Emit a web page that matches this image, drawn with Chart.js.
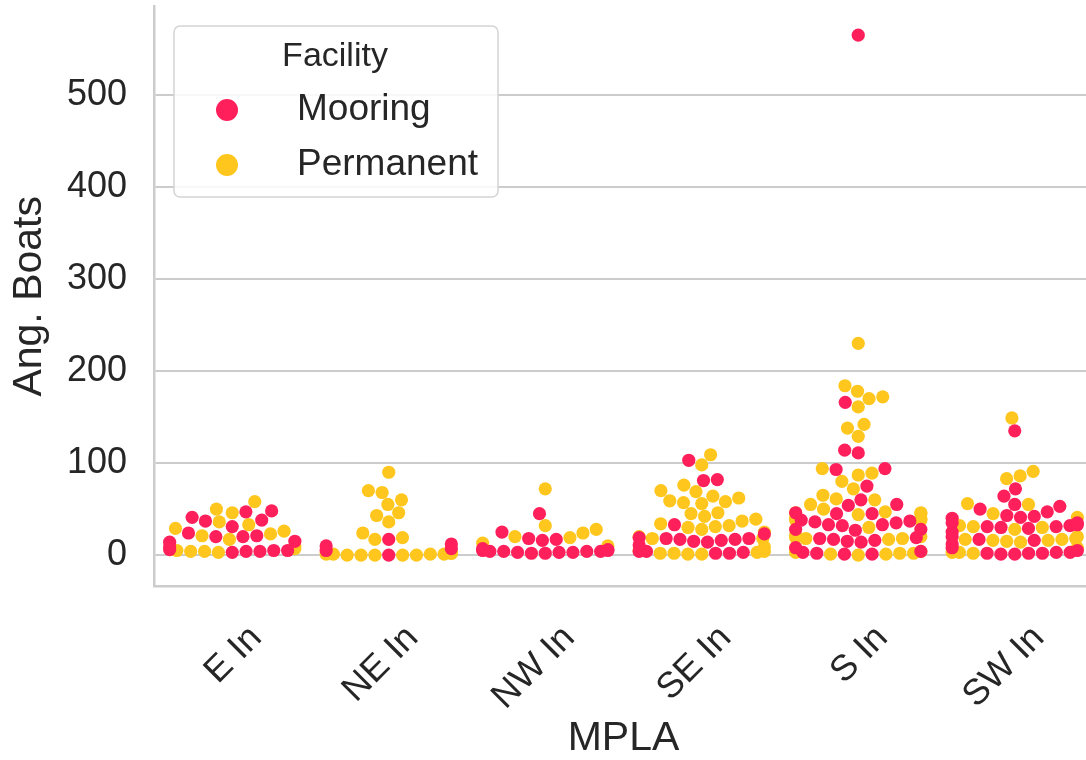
<!DOCTYPE html>
<html>
<head>
<meta charset="utf-8">
<title>Ang. Boats by MPLA</title>
<script src="https://cdn.jsdelivr.net/npm/chart.js@4.4.1/dist/chart.umd.min.js"></script>
<style>
  html, body { margin: 0; padding: 0; background: #ffffff; overflow: hidden; }
  #wrap { width: 1100px; height: 760px; }
  canvas { display: block; }
</style>
</head>
<body>
<div id="wrap"><canvas id="chart" width="1100" height="760"></canvas></div>
<script>
// Categories along the x axis
const categories = ['E In', 'NE In', 'NW In', 'SE In', 'S In', 'SW In'];
const yTickValues = [0, 100, 200, 300, 400, 500];
const legendTitle = 'Facility';
const seriesNames = ['Mooring', 'Permanent'];

// Angling boats per site, one array per MPLA and facility type
const E_IN_MOORING    = [3, 4, 4, 5, 6, 14, 9, 15, 5, 24, 21, 20, 20, 38, 37, 31, 41, 47, 48];
const E_IN_PERMANENT  = [3, 4, 5, 4, 7, 10, 17, 21, 23, 26, 29, 33, 36, 46, 50, 58];
const NE_IN_MOORING   = [0, 17, 12, 7, 10, 5];
const NE_IN_PERMANENT = [0, 0, 1, 0, 1, 2, 0, 1, 2, 1, 0, 19, 17, 24, 36, 43, 46, 55, 60, 68, 70, 90];
const NW_IN_MOORING   = [2, 3, 3, 4, 4, 5, 2, 3, 4, 5, 7, 6, 4, 16, 17, 18, 25, 45];
const NW_IN_PERMANENT = [10, 13, 20, 19, 24, 28, 32, 72];
const SE_IN_MOORING   = [103, 82, 81, 33, 19, 17, 18, 16, 18, 17, 15, 3, 2, 4, 23, 11, 2, 14, 4];
const SE_IN_PERMANENT = [109, 98, 76, 70, 69, 64, 59, 57, 56, 58, 62, 45, 42, 46, 39, 34, 32, 30, 28, 31, 37, 18, 1, 2, 3, 2, 4, 1, 18, 5, 25, 20, 9];
const S_IN_MOORING    = [565, 166, 114, 111, 94, 93, 75, 60, 54, 55, 46, 45, 38, 37, 28, 32, 33, 36, 18, 16, 19, 17, 2, 1, 3, 45, 35, 28, 15, 4, 33, 27, 14, 8, 1];
const S_IN_PERMANENT  = [230, 184, 178, 170, 172, 161, 138, 142, 129, 89, 87, 94, 80, 72, 60, 61, 65, 46, 47, 45, 44, 38, 39, 30, 18, 19, 17, 18, 2, 3, 1, 2, 0, 55, 50, 40, 22, 8, 1, 46, 38, 20, 4];
const SW_IN_MOORING   = [135, 72, 64, 53, 55, 47, 50, 42, 40, 41, 31, 32, 30, 33, 31, 29, 16, 17, 2, 1, 3, 2, 1, 2, 3, 43, 35, 25, 12, 5, 35, 20, 8];
const SW_IN_PERMANENT = [149, 91, 86, 83, 56, 55, 41, 31, 30, 32, 16, 17, 15, 16, 18, 17, 2, 3, 20, 8, 45, 28, 14, 3];

const mooringByCategory   = [E_IN_MOORING, NE_IN_MOORING, NW_IN_MOORING, SE_IN_MOORING, S_IN_MOORING, SW_IN_MOORING];
const permanentByCategory = [E_IN_PERMANENT, NE_IN_PERMANENT, NW_IN_PERMANENT, SE_IN_PERMANENT, S_IN_PERMANENT, SW_IN_PERMANENT];

const COLORS = ['#FF1F5B', '#FFC61E'];
const TEXT = '#262626';
const GRID = '#cccccc';
const FONT = "'Liberation Sans', Arial, Helvetica, sans-serif";
const R = 6.6;           // marker radius (px)
const SWARM_WIDTH = 0.8; // share of a category slot used by the swarm

// Beeswarm layout in pixel space: each point, taken in order of height,
// goes to the free spot closest to the category midline.
function beeswarm(heights, r) {
  const placed = [];
  const out = new Array(heights.length);
  const order = heights.map((h, i) => i).sort((a, b) => heights[a] - heights[b]);
  for (const i of order) {
    const h = heights[i];
    const neighbors = [];
    for (let j = placed.length - 1; j >= 0; j--) {
      if (h - placed[j].h < 2 * r) neighbors.push(placed[j]); else break;
    }
    const cands = [0];
    let leftFirst = true;
    for (const n of neighbors) {
      const dy = h - n.h;
      const dx = Math.sqrt(Math.max(4 * r * r - dy * dy, 0)) * 1.05;
      if (leftFirst) cands.push(n.x - dx, n.x + dx); else cands.push(n.x + dx, n.x - dx);
      leftFirst = !leftFirst;
    }
    const sorted = cands.map((x, k) => ({ x, k })).sort((a, b) => (Math.abs(a.x) - Math.abs(b.x)) || (a.k - b.k));
    let chosen = sorted[0].x;
    for (const c of sorted) {
      let ok = true;
      for (const n of neighbors) {
        const ddx = n.x - c.x, ddy = n.h - h;
        if (ddx * ddx + ddy * ddy < 4 * r * r - 1e-6) { ok = false; break; }
      }
      if (ok) { chosen = c.x; break; }
    }
    placed.push({ x: chosen, h });
    out[i] = chosen;
  }
  return out;
}

function layoutSwarms(chart) {
  const xs = chart.scales.x, ys = chart.scales.y;
  const slot = xs.getPixelForValue(1) - xs.getPixelForValue(0);
  const gutter = SWARM_WIDTH / 2;
  const base = ys.getPixelForValue(0);
  const mooringPts = [], permanentPts = [];
  categories.forEach((cat, ci) => {
    const vals = [];
    mooringByCategory[ci].forEach(v => vals.push({ v, s: 0 }));
    permanentByCategory[ci].forEach(v => vals.push({ v, s: 1 }));
    const heights = vals.map(p => base - ys.getPixelForValue(p.v));
    const offs = beeswarm(heights, R);
    vals.forEach((p, k) => {
      let dx = offs[k] / slot;
      if (dx > gutter) dx = gutter;
      if (dx < -gutter) dx = -gutter;
      (p.s === 0 ? mooringPts : permanentPts).push({ x: ci + dx, y: p.v });
    });
  });
  chart.data.datasets[0].data = mooringPts;
  chart.data.datasets[1].data = permanentPts;
  chart.update('none');
}

// Framed legend with title, drawn inside the plot area
const boxLegend = {
  id: 'boxLegend',
  afterDatasetsDraw(chart) {
    const ctx = chart.ctx;
    const x = 174, y = 26, w = 324, h = 171, rad = 6;
    ctx.save();
    ctx.beginPath();
    ctx.moveTo(x + rad, y);
    ctx.arcTo(x + w, y, x + w, y + h, rad);
    ctx.arcTo(x + w, y + h, x, y + h, rad);
    ctx.arcTo(x, y + h, x, y, rad);
    ctx.arcTo(x, y, x + w, y, rad);
    ctx.closePath();
    ctx.fillStyle = 'rgba(255,255,255,0.85)';
    ctx.fill();
    ctx.lineWidth = 1.5;
    ctx.strokeStyle = '#d4d4d4';
    ctx.stroke();

    ctx.fillStyle = TEXT;
    ctx.textAlign = 'center';
    ctx.textBaseline = 'alphabetic';
    ctx.font = `34px ${FONT}`;
    ctx.fillText(legendTitle, 335, 66);

    chart.data.datasets.forEach((ds, i) => {
      const cy = 110 + i * 55;
      ctx.beginPath();
      ctx.arc(227, cy, 11, 0, Math.PI * 2);
      ctx.fillStyle = ds.backgroundColor;
      ctx.fill();
      ctx.fillStyle = TEXT;
      ctx.textAlign = 'left';
      ctx.textBaseline = 'middle';
      ctx.font = `37px ${FONT}`;
      ctx.fillText(ds.label, 297, cy);
    });
    ctx.restore();
  }
};

const chart = new Chart(document.getElementById('chart'), {
  type: 'scatter',
  data: {
    datasets: seriesNames.map((name, i) => ({
      label: name,
      data: [],
      backgroundColor: COLORS[i],
      borderWidth: 0,
      pointRadius: R,
      pointHoverRadius: R
    }))
  },
  options: {
    responsive: false,
    animation: false,
    events: [],
    layout: { padding: { top: 5, right: 7, left: 0, bottom: 0 } },
    plugins: { legend: { display: false }, tooltip: { enabled: false } },
    scales: {
      x: {
        type: 'linear',
        min: -0.5,
        max: categories.length - 0.5,
        afterFit(scale) {
          scale.height = 174;
          scale.paddingLeft = 0; scale.paddingRight = 0;
          scale.paddingTop = 0; scale.paddingBottom = 0;
        },
        afterBuildTicks(scale) { scale.ticks = categories.map((c, i) => ({ value: i })); },
        ticks: {
          autoSkip: false,
          minRotation: 45,
          maxRotation: 45,
          labelOffset: 24,
          padding: 31,
          color: TEXT,
          font: { family: FONT, size: 36 },
          callback: (v) => categories[v]
        },
        grid: { display: false, drawTicks: false },
        border: { display: true, color: GRID, width: 2.5 },
        title: {
          display: true,
          text: 'MPLA',
          color: TEXT,
          font: { family: FONT, size: 41, lineHeight: 1 },
          padding: { top: 0, bottom: 0.5 }
        }
      },
      y: {
        min: -33.6,
        max: 596,
        afterFit(scale) {
          scale.width = 154;
          scale.paddingLeft = 0; scale.paddingRight = 0;
          scale.paddingTop = 0; scale.paddingBottom = 0;
        },
        afterBuildTicks(scale) { scale.ticks = yTickValues.map(v => ({ value: v })); },
        ticks: {
          padding: 27,
          color: TEXT,
          font: { family: FONT, size: 36 }
        },
        grid: { color: GRID, lineWidth: 2, drawTicks: false },
        border: { display: true, color: GRID, width: 2.5 },
        title: {
          display: true,
          text: 'Ang. Boats',
          color: TEXT,
          font: { family: FONT, size: 41, lineHeight: 1.2 },
          padding: { top: 4.7, bottom: 0 }
        }
      }
    }
  },
  plugins: [boxLegend]
});

layoutSwarms(chart);
</script>
</body>
</html>
